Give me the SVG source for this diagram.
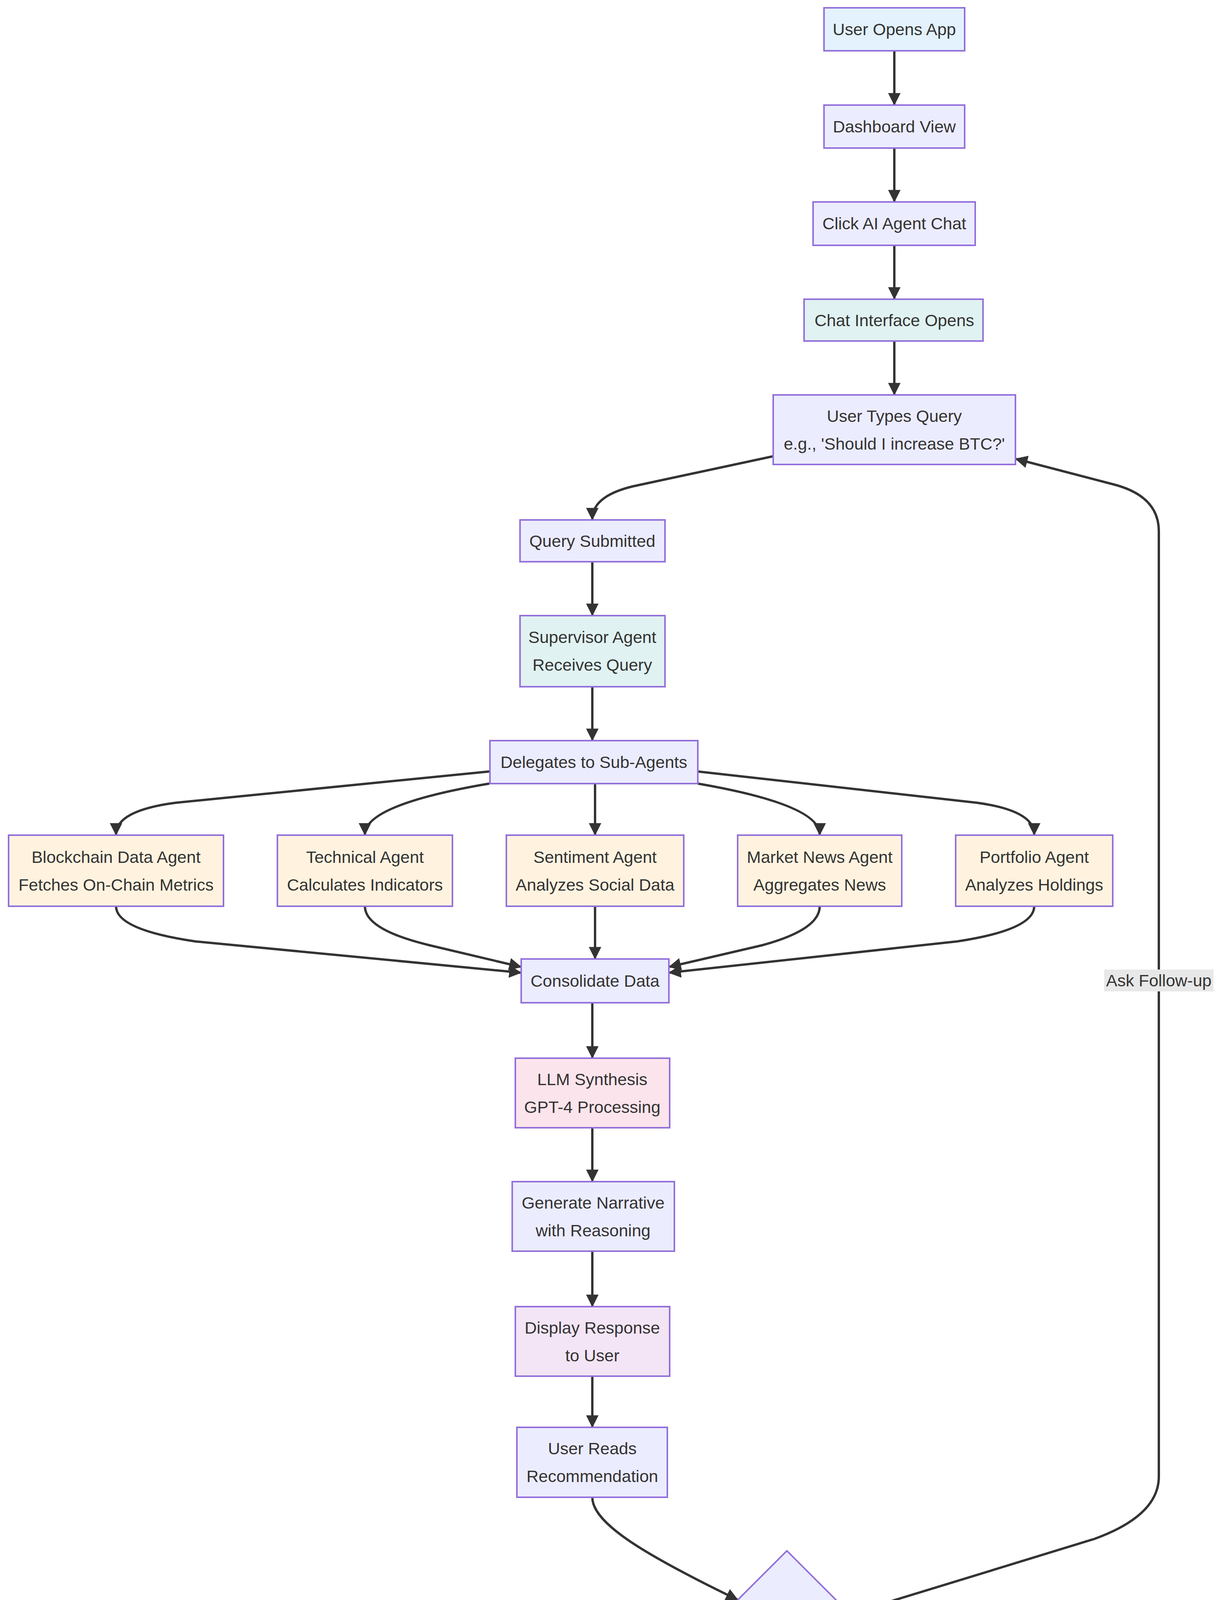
<svg xmlns="http://www.w3.org/2000/svg" width="3120" height="6180" viewBox="0 0 3120 6180">
<style>
.n rect,.n polygon{fill:#ececff;stroke:#9370db;stroke-width:4}
text{font-family:"Liberation Sans",Arial,sans-serif;font-size:43px;fill:#333;text-anchor:middle;dominant-baseline:central}
.e path{fill:none;stroke:#333;stroke-width:6;marker-end:url(#a)}
.lb rect{fill:#e8e8e8}
</style>
<defs><marker id="a" viewBox="0 0 10 10" refX="9" refY="5" markerUnits="userSpaceOnUse" markerWidth="32" markerHeight="32" orient="auto"><path d="M0,0L10,5L0,10z" fill="#333"/></marker></defs>
<rect width="3120" height="6180" fill="#fff"/>
<g id="edges" class="e">
<path d="M2289,130V267"/><path d="M2289,379V515"/><path d="M2289,628V764"/><path d="M2289,873V1009"/>
<path d="M1979,1168L1620,1245Q1516,1270 1516,1329"/>
<path d="M2170,4133L2800,3940Q2966,3880 2966,3780V1360Q2966,1270 2850,1240L2601,1175"/>
<path d="M1516,1438V1574"/><path d="M1516,1758V1894"/>
<path d="M1252,1975L450,2055Q297,2075 297,2136"/>
<path d="M1252,2006Q934,2060 934,2136"/>
<path d="M1523,2006V2136"/>
<path d="M1786,2006Q2098,2060 2098,2136"/>
<path d="M1786,1975L2500,2055Q2647,2075 2647,2136"/>
<path d="M297,2320Q297,2380 500,2410L1332,2490"/>
<path d="M934,2320Q934,2380 1100,2420L1332,2475"/>
<path d="M1523,2320V2453"/>
<path d="M2098,2320Q2098,2380 1950,2420L1714,2475"/>
<path d="M2647,2320Q2647,2380 2450,2410L1714,2490"/>
<path d="M1516,2567V2707"/><path d="M1516,2887V3023"/><path d="M1516,3203V3343"/><path d="M1516,3523V3652"/>
<path d="M1516,3833C1516,3900 1650,3980 1887,4095"/>
<path d="M1920,4268C1850,4345 1739,4450 1739,4564"/>
<path d="M2110,4268C2170,4345 2288,4450 2288,4564"/>
<path d="M2155,4222C2500,4360 2776,4480 2776,4564"/>
<path d="M1739,4676V4820"/><path d="M1739,4933V5069"/><path d="M1739,5178V5314"/><path d="M1739,5427V5563"/><path d="M1739,5675V5811"/><path d="M1739,5921V6060"/>
</g>
<g class="lb">
<g id="l1"><rect x="2826" y="2482" width="280" height="56"/><text x="2966" y="2510">Ask Follow-up</text></g>
<g id="l2"><rect x="1661" y="4434" width="157" height="56"/><text x="1739" y="4462">Execute</text></g>
<g id="l3"><rect x="2151" y="4434" width="275" height="56"/><text x="2288" y="4462">Save for Later</text></g>
<g id="l4"><rect x="2704" y="4434" width="144" height="56"/><text x="2776" y="4462">Decline</text></g>
</g>
<g class="n">
<g id="n1"><rect x="2109" y="20" width="360" height="110" style="fill:#e3f2fd"/><text x="2289" y="75">User Opens App</text></g>
<g id="n2"><rect x="2109" y="269" width="360" height="110"/><text x="2289" y="324">Dashboard View</text></g>
<g id="n3"><rect x="2081" y="517" width="415" height="111"/><text x="2289" y="572">Click AI Agent Chat</text></g>
<g id="n4"><rect x="2058" y="766" width="458" height="107" style="fill:#e0f2f1"/><text x="2289" y="820">Chat Interface Opens</text></g>
<g id="n5"><rect x="1979" y="1011" width="620" height="178"/><text x="2289" y="1065">User Types Query</text><text x="2289" y="1136">e.g., 'Should I increase BTC?'</text></g>
<g id="n6"><rect x="1331" y="1331" width="371" height="107"/><text x="1516" y="1385">Query Submitted</text></g>
<g id="n7"><rect x="1331" y="1576" width="371" height="182" style="fill:#e0f2f1"/><text x="1516" y="1631">Supervisor Agent</text><text x="1516" y="1702">Receives Query</text></g>
<g id="n8"><rect x="1254" y="1896" width="532" height="110"/><text x="1520" y="1951">Delegates to Sub-Agents</text></g>
<g id="n9"><rect x="22" y="2138" width="550" height="182" style="fill:#fff3e0"/><text x="297" y="2194">Blockchain Data Agent</text><text x="297" y="2265">Fetches On-Chain Metrics</text></g>
<g id="n10"><rect x="710" y="2138" width="448" height="182" style="fill:#fff3e0"/><text x="934" y="2194">Technical Agent</text><text x="934" y="2265">Calculates Indicators</text></g>
<g id="n11"><rect x="1296" y="2138" width="454" height="182" style="fill:#fff3e0"/><text x="1523" y="2194">Sentiment Agent</text><text x="1523" y="2265">Analyzes Social Data</text></g>
<g id="n12"><rect x="1888" y="2138" width="420" height="182" style="fill:#fff3e0"/><text x="2098" y="2194">Market News Agent</text><text x="2098" y="2265">Aggregates News</text></g>
<g id="n13"><rect x="2446" y="2138" width="402" height="182" style="fill:#fff3e0"/><text x="2647" y="2194">Portfolio Agent</text><text x="2647" y="2265">Analyzes Holdings</text></g>
<g id="n14"><rect x="1334" y="2455" width="378" height="112"/><text x="1523" y="2511">Consolidate Data</text></g>
<g id="n15"><rect x="1319" y="2709" width="395" height="178" style="fill:#fce4ec"/><text x="1516" y="2763">LLM Synthesis</text><text x="1516" y="2834">GPT-4 Processing</text></g>
<g id="n16"><rect x="1311" y="3025" width="415" height="178"/><text x="1518" y="3079">Generate Narrative</text><text x="1518" y="3150">with Reasoning</text></g>
<g id="n17"><rect x="1319" y="3345" width="395" height="178" style="fill:#f3e5f5"/><text x="1516" y="3399">Display Response</text><text x="1516" y="3470">to User</text></g>
<g id="n18"><rect x="1323" y="3654" width="385" height="179"/><text x="1516" y="3708">User Reads</text><text x="1516" y="3779">Recommendation</text></g>
<g id="n19"><polygon points="2014,3970 2209,4165 2014,4358 1819,4165"/><text x="2014" y="4130">User</text><text x="2014" y="4201">Decision</text></g>
<g id="n20"><rect x="1520" y="4566" width="439" height="110" style="fill:#ffe0b2"/><text x="1739" y="4621">One-Click Execution</text></g>
<g id="n21"><rect x="2096" y="4566" width="384" height="110"/><text x="2288" y="4621">Store in Favorites</text></g>
<g id="n22"><rect x="2617" y="4566" width="320" height="110"/><text x="2777" y="4621">Log Feedback</text></g>
<g id="n23"><rect x="1461" y="4822" width="557" height="111"/><text x="1739" y="4877">Calculate Trade Sequence</text></g>
<g id="n24"><rect x="1465" y="5071" width="548" height="107"/><text x="1739" y="5124">Display Slippage Estimate</text></g>
<g id="n25"><rect x="1465" y="5316" width="548" height="111"/><text x="1739" y="5371">Request 2FA Confirmation</text></g>
<g id="n26"><rect x="1568" y="5565" width="343" height="110" style="fill:#ffccbc"/><text x="1739" y="5620">Execute Trades</text></g>
<g id="n27"><rect x="1528" y="5813" width="427" height="108"/><text x="1739" y="5867">Post-Trade Analysis</text></g>
<g id="n28"><rect x="1461" y="6062" width="561" height="108" style="fill:#c8e6c9"/><text x="1739" y="6116">Show Sharpe Ratio Impact</text></g>
</g>
</svg>
